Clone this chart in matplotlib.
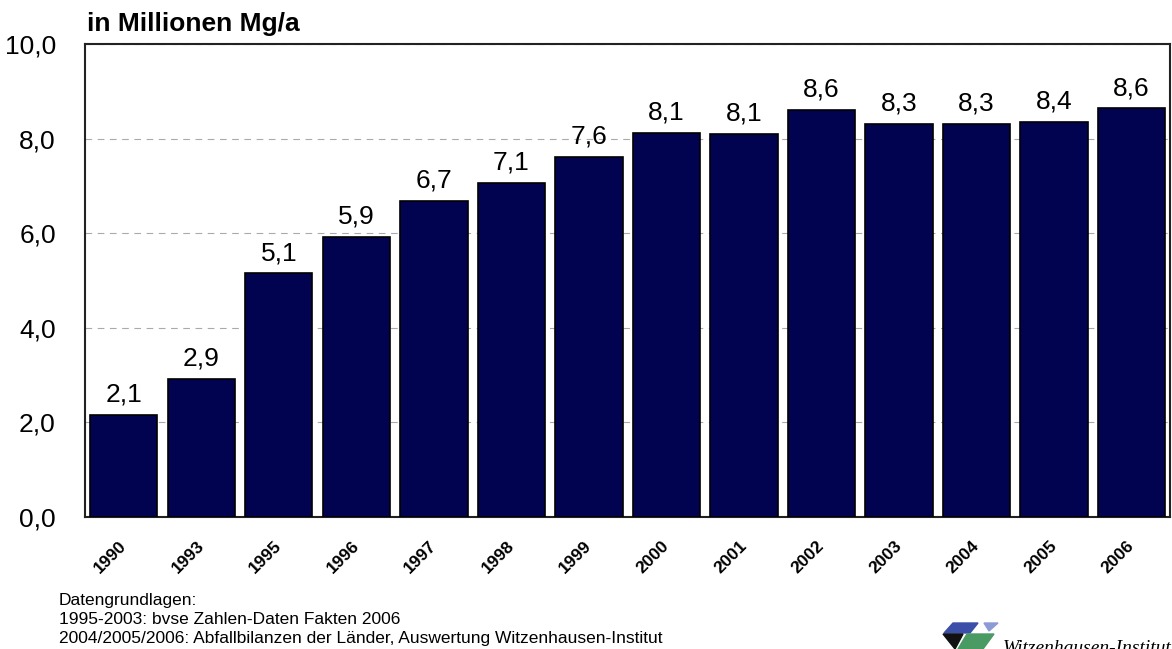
import numpy as np
import matplotlib.pyplot as plt
import matplotlib.transforms as mtransforms
from matplotlib.patches import Polygon

plt.rcParams['font.family'] = ['Liberation Sans', 'DejaVu Sans']

# data (million Mg per year)
years = ['1990', '1993', '1995', '1996', '1997', '1998', '1999',
         '2000', '2001', '2002', '2003', '2004', '2005', '2006']
values = [2.15, 2.92, 5.15, 5.93, 6.68, 7.06, 7.61,
          8.13, 8.10, 8.60, 8.31, 8.31, 8.36, 8.64]
labels = ['2,1', '2,9', '5,1', '5,9', '6,7', '7,1', '7,6',
          '8,1', '8,1', '8,6', '8,3', '8,3', '8,4', '8,6']
yticks = [0, 2, 4, 6, 8, 10]
ytick_labels = ['0,0', '2,0', '4,0', '6,0', '8,0', '10,0']

fig = plt.figure(figsize=(11.72, 6.49), dpi=100)
ax = fig.add_axes([0.0725, 0.2034, 0.926, 0.7286])

x = np.arange(len(years))
bars = ax.bar(x, values, width=0.87, color='#020350', edgecolor='black',
              linewidth=1.2, zorder=3)

for b, lab in zip(bars, labels):
    ax.annotate(lab, (b.get_x() + b.get_width() / 2, b.get_height()),
                xytext=(0, 6), textcoords='offset points',
                ha='center', va='bottom', fontsize=19)

ax.set_xlim(-0.5, len(years) - 0.5)
ax.set_ylim(0, 10)
ax.set_yticks(yticks)
ax.set_yticklabels(ytick_labels, fontsize=19)
ax.set_xticks(x)
ax.set_xticklabels(years, rotation=45, ha='right', rotation_mode='anchor',
                   fontsize=12.5, fontweight='bold')
ax.tick_params(axis='y', length=0, pad=21)
ax.tick_params(axis='x', length=0, pad=15)
shift = mtransforms.ScaledTranslation(-5 / 100, 0, fig.dpi_scale_trans)
for lbl in ax.get_xticklabels():
    lbl.set_transform(lbl.get_transform() + shift)

ax.yaxis.grid(True, linestyle=(0, (6, 5)), color='#aaaaaa', linewidth=0.8, zorder=0)
for s in ax.spines.values():
    s.set_linewidth(1.5)
    s.set_color('#222222')

fig.text(0.074, 0.945, 'in Millionen Mg/a', fontsize=19, fontweight='bold',
         ha='left', va='bottom')

notes = ['Datengrundlagen:',
         '1995-2003: bvse Zahlen-Daten Fakten 2006',
         '2004/2005/2006: Abfallbilanzen der Länder, Auswertung Witzenhausen-Institut']
for i, line in enumerate(notes):
    fig.text(0.050, 1 - (600 + i * 19.5) / 649, line, fontsize=12.5,
             ha='left', va='center')

# logo in the lower right corner (figure pixel coords)
W, H = 1172, 649
def fp(pts):
    return [(px / W, 1 - py / H) for px, py in pts]
fig.patches.append(Polygon(fp([(953, 623), (978, 623), (970, 633), (944, 633)]),
                           closed=True, color='#3b4fa8', transform=fig.transFigure))
fig.patches.append(Polygon(fp([(984, 623), (998, 623), (989, 631)]),
                           closed=True, color='#8c9ad6', transform=fig.transFigure))
fig.patches.append(Polygon(fp([(943, 634), (963, 634), (955, 649)]),
                           closed=True, color='#111111', transform=fig.transFigure))
fig.patches.append(Polygon(fp([(967, 634), (994, 634), (983, 649), (958, 649)]),
                           closed=True, color='#4a9a64', transform=fig.transFigure))
fig.text(1003 / W, 1 - 653 / H, 'Witzenhausen-Institut', fontsize=14,
         family='Liberation Serif', style='italic', ha='left', va='baseline')

fig.savefig('out.png', dpi=100)
